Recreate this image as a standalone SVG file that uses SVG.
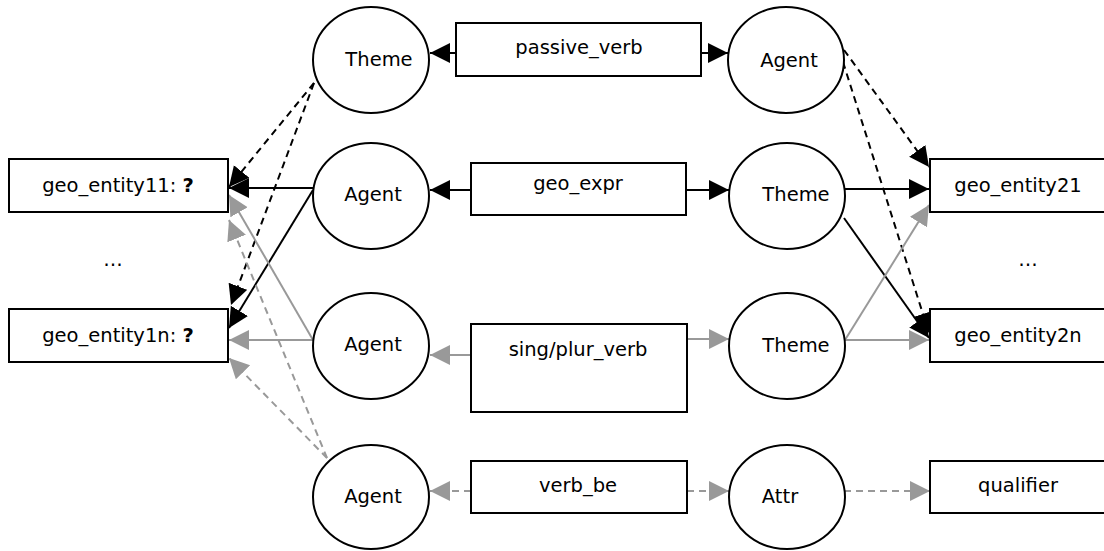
<svg xmlns="http://www.w3.org/2000/svg" width="1104" height="551" viewBox="0 0 1104 551">
<style>
.n{fill:#fff;stroke:#000;stroke-width:2}
.t{font-family:"DejaVu Sans",sans-serif;font-size:19.5px;fill:#000;text-anchor:middle}
.b{stroke:#000;stroke-width:2;fill:none;marker-end:url(#ab)}
.g{stroke:#999;stroke-width:2;fill:none;marker-end:url(#ag)}
.d{stroke-dasharray:7,5}
</style>
<defs>
<marker id="ab" markerUnits="userSpaceOnUse" markerWidth="22" markerHeight="22" refX="20" refY="10" orient="auto"><path d="M0,0 L20,10 L0,20 z" fill="#000"/></marker>
<marker id="ag" markerUnits="userSpaceOnUse" markerWidth="22" markerHeight="22" refX="20" refY="10" orient="auto"><path d="M0,0 L20,10 L0,20 z" fill="#999"/></marker>
</defs>
<rect width="1104" height="551" fill="#fff"/>
<g id="connectors">
<line class="b" x1="456" y1="53" x2="430" y2="53"/>
<line class="b" x1="701" y1="53" x2="728" y2="53"/>
<line class="b" x1="471" y1="190" x2="430" y2="190"/>
<line class="b" x1="686" y1="190" x2="729" y2="190"/>
<line class="b" x1="313" y1="188" x2="229" y2="188"/>
<line class="b" x1="313" y1="190" x2="229" y2="328"/>
<line class="b d" x1="314" y1="83" x2="229" y2="187"/>
<line class="b d" x1="314" y1="83" x2="231" y2="305"/>
<line class="g" x1="313" y1="340" x2="229" y2="195"/>
<line class="g" x1="313" y1="340" x2="229" y2="340"/>
<line class="g d" x1="327" y1="458" x2="229" y2="220"/>
<line class="g d" x1="327" y1="458" x2="229" y2="358"/>
<line class="g" x1="471" y1="355" x2="430" y2="355"/>
<line class="g" x1="687" y1="339" x2="729" y2="339"/>
<line class="g d" x1="471" y1="491" x2="430" y2="491"/>
<line class="g d" x1="687" y1="491" x2="729" y2="491"/>
<line class="g d" x1="844" y1="491" x2="930" y2="491"/>
<line class="b d" x1="844" y1="50" x2="929" y2="167"/>
<line class="b d" x1="843" y1="62" x2="929" y2="333"/>
<line class="b" x1="845" y1="189" x2="929" y2="189"/>
<line class="b" x1="844" y1="218" x2="929" y2="338"/>
<line class="g" x1="845" y1="340" x2="929" y2="205"/>
<line class="g" x1="845" y1="340" x2="929" y2="340"/>
</g>
<g id="theme1"><ellipse class="n" cx="371" cy="60" rx="58" ry="53"/><text class="t" x="379" y="66">Theme</text></g>
<g id="passive_verb"><rect class="n" x="456" y="23" width="245" height="53"/><text class="t" x="579" y="54">passive_verb</text></g>
<g id="agent1"><ellipse class="n" cx="786" cy="60" rx="58" ry="53"/><text class="t" x="789" y="67">Agent</text></g>
<g id="geo_entity11"><rect class="n" x="9" y="159" width="219" height="53"/><text class="t" x="118" y="192">geo_entity11: <tspan font-weight="bold">?</tspan></text></g>
<g id="dots_left"><text class="t" x="113" y="266">…</text></g>
<g id="geo_entity1n"><rect class="n" x="9" y="309" width="219" height="53"/><text class="t" x="118" y="342">geo_entity1n: <tspan font-weight="bold">?</tspan></text></g>
<g id="agent2"><ellipse class="n" cx="371" cy="196" rx="58" ry="53"/><text class="t" x="373" y="201">Agent</text></g>
<g id="geo_expr"><rect class="n" x="471" y="163" width="215" height="52"/><text class="t" x="578" y="190">geo_expr</text></g>
<g id="theme2"><ellipse class="n" cx="787" cy="196" rx="58" ry="53"/><text class="t" x="796" y="201">Theme</text></g>
<g id="geo_entity21"><rect class="n" x="930" y="159" width="180" height="53"/><text class="t" x="1018" y="192">geo_entity21</text></g>
<g id="dots_right"><text class="t" x="1028" y="266">…</text></g>
<g id="geo_entity2n"><rect class="n" x="930" y="309" width="180" height="53"/><text class="t" x="1018" y="342">geo_entity2n</text></g>
<g id="agent3"><ellipse class="n" cx="371" cy="346" rx="58" ry="53"/><text class="t" x="373" y="351">Agent</text></g>
<g id="sing_plur_verb"><rect class="n" x="471" y="324" width="216" height="88"/><text class="t" x="578" y="356">sing/plur_verb</text></g>
<g id="theme3"><ellipse class="n" cx="787" cy="346" rx="58" ry="53"/><text class="t" x="796" y="352">Theme</text></g>
<g id="agent4"><ellipse class="n" cx="371" cy="497" rx="58" ry="52"/><text class="t" x="373" y="503">Agent</text></g>
<g id="verb_be"><rect class="n" x="471" y="461" width="216" height="52"/><text class="t" x="578" y="492">verb_be</text></g>
<g id="attr"><ellipse class="n" cx="787" cy="497" rx="58" ry="52"/><text class="t" x="780" y="503">Attr</text></g>
<g id="qualifier"><rect class="n" x="930" y="461" width="180" height="52"/><text class="t" x="1018" y="492">qualifier</text></g>
</svg>
